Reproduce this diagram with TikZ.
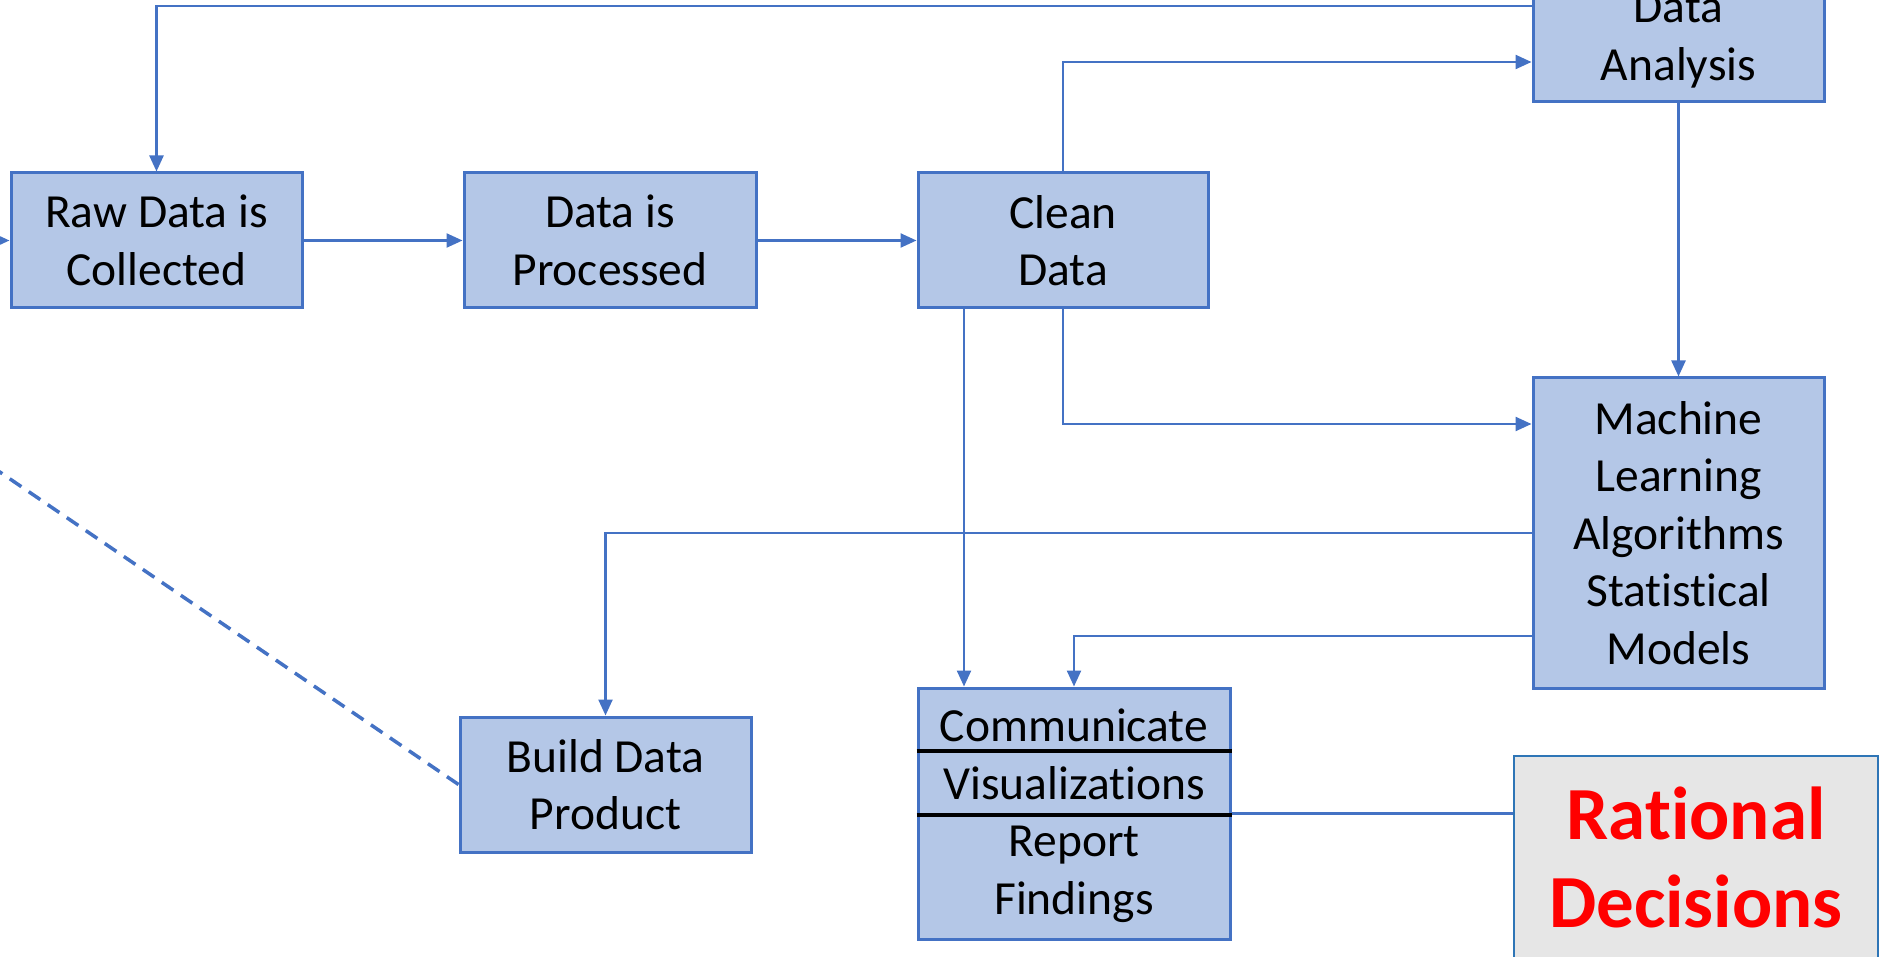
\documentclass[tikz,border=0pt]{standalone}
\usepackage{fontspec}
\setmainfont{Carlito}[Ligatures=NoCommon]
\usetikzlibrary{arrows.meta,calc}
\definecolor{boxfill}{HTML}{B4C7E7}
\definecolor{boxline}{HTML}{4472C4}
\definecolor{ratfill}{HTML}{E6E6E6}
\definecolor{ratline}{HTML}{2E75B6}
\begin{document}
\begin{tikzpicture}[x=1pt,y=-1pt,
  box/.style={draw=boxline, fill=boxfill, line width=3pt, inner sep=0pt, align=center,
    font=\fontsize{47.5}{57.6}\selectfont},
  conn/.style={draw=boxline, line width=2.4pt},
  arr/.style={conn, -{Triangle[length=16pt,width=14pt]}},
  sep/.style={draw=black, line width=4.5pt}]
\useasboundingbox (0,0) rectangle (1882,957);
\clip (0,0) rectangle (1882,957);
\node[box, minimum width=291pt, minimum height=135pt] (raw) at (156.5,240.5) {Raw Data is\\Collected};
\node[box, minimum width=292pt, minimum height=135pt] (proc) at (610,240.5) {Data is\\Processed};
\node[box, minimum width=290pt, minimum height=135pt] (clean) at (1063,240.5) {Clean\\Data};
\node[box, minimum width=291pt, minimum height=124pt] (analysis) at (1678.5,40) {Data\\Analysis};
\node[box, minimum width=291pt, minimum height=310pt] (ml) at (1678.5,533) {Machine\\Learning\\Algorithms\\Statistical\\Models};
\node[box, minimum width=291pt, minimum height=135pt] (build) at (605.5,784.5) {Build Data\\Product};
\node[box, minimum width=312pt, minimum height=251pt, text depth=4pt] (comm) at (1074,813.5) {Communicate\\Visualizations\\Report\\Findings};
\node[draw=ratline, fill=ratfill, line width=2.4pt, inner sep=0pt, align=center,
  minimum width=364pt, minimum height=202pt, text=red,
  font=\fontsize{75}{88}\selectfont\bfseries] (rat) at (1696,857) {Rational\\Decisions};
% separators in communicate box
\draw[sep] ([yshift=62.5pt]comm.west) -- ([yshift=62.5pt]comm.east);
\draw[sep] ([yshift=-1.5pt]comm.west) -- ([yshift=-1.5pt]comm.east);
% connectors
\coordinate (in0) at (-30,240.5);
\draw[arr] (in0) -- (raw.west);
\draw[arr] (raw.east) -- (proc.west);
\draw[arr] (proc.east) -- (clean.west);
\draw[arr] ([yshift=34pt]analysis.west) -| (raw.north);
\draw[arr] (clean.north) |- ([yshift=-22pt]analysis.west);
\draw[arr] (analysis.south) -- (ml.north);
\draw[arr] (clean.south) |- ([yshift=109pt]ml.west);
\draw[arr] ([xshift=-99pt]clean.south) -- ([xshift=-99pt]clean.south |- comm.north);
\draw[arr] (ml.west) -| (build.north);
\draw[arr] ([yshift=-103pt]ml.west) -| (comm.north);
\draw[conn] (comm.east) -- (comm.east -| rat.west);
\coordinate (dashend) at (-20,458.5);
\draw[boxline, line width=3.5pt, dash pattern=on 14pt off 9pt] (build.west) -- (dashend);
\end{tikzpicture}
\end{document}
